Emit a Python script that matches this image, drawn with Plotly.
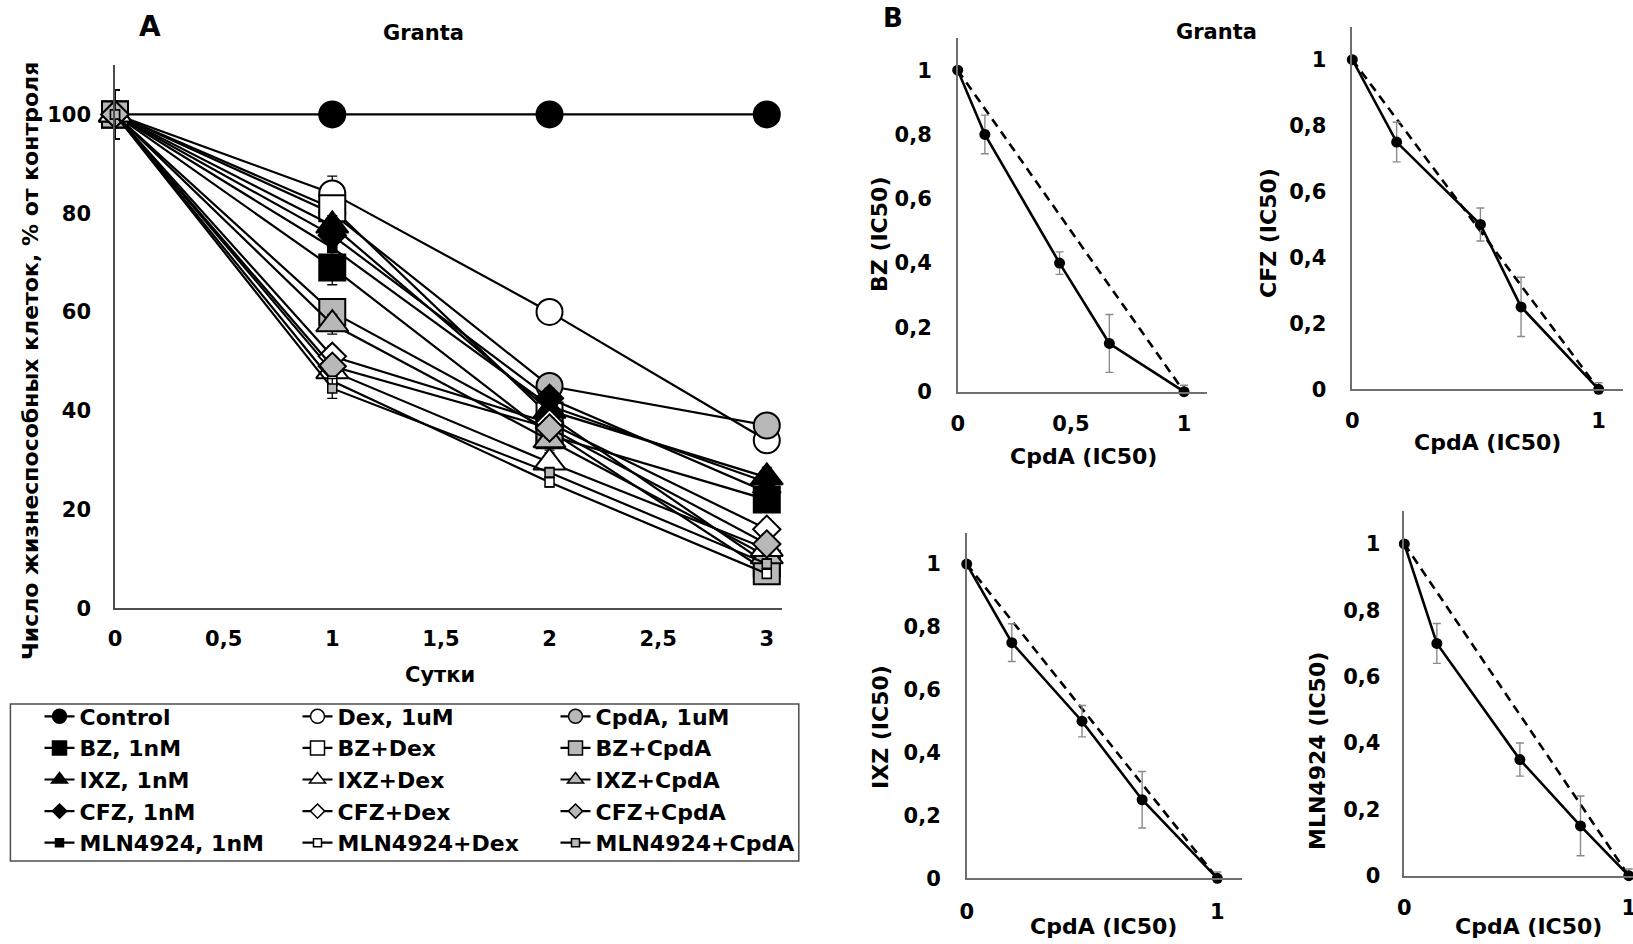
import plotly.graph_objects as go

# ---------------- Panel A: viability over time ----------------
days = [0, 1, 2, 3]

control = [100, 100, 100, 100]
dex = [100, 84, 60, 34]
cpda = [100, 80, 45, 37]
bz = [100, 69, 35, 22]
ixz = [100, 77.5, 40, 26.5]
cfz = [100, 75.5, 42.5, 23.5]
mln = [100, 73, 41, 25.5]
bz_dex = [100, 81, 39, 9]
ixz_dex = [100, 48, 29.5, 12]
cfz_dex = [100, 51, 37.5, 16]
mln_dex = [100, 46, 25.5, 7]
bz_cpda = [100, 60, 36, 7.5]
ixz_cpda = [100, 57.5, 34, 10.5]
cfz_cpda = [100, 49, 36.5, 13]
mln_cpda = [100, 44.5, 27.5, 9]

control_err = [5, 1, 1, 1]
dex_err = [5, 3.5, 2, 2]
cpda_err = [5, 2, 2, 2]
bz_err = [5, 3.5, 2, 2]
ixz_err = [5, 2, 2, 2]
cfz_err = [5, 2, 2, 2]
mln_err = [5, 1, 1, 1]
bz_dex_err = [5, 2, 2, 2]
ixz_dex_err = [5, 2, 2, 2]
cfz_dex_err = [5, 2, 2, 2]
mln_dex_err = [5, 1, 1, 1]
bz_cpda_err = [5, 2, 2, 2]
ixz_cpda_err = [5, 2, 2, 2]
cfz_cpda_err = [5, 2, 2, 2]
mln_cpda_err = [5, 2, 1, 1]

# ---------------- Panel B: isobolograms ----------------
bz_cpda_x = [0, 0.12, 0.45, 0.67, 1]
bz_iso_y = [1, 0.8, 0.4, 0.15, 0]
bz_iso_err = [0, 0.06, 0.035, 0.09, 0.02]

cfz_cpda_x = [0, 0.18, 0.52, 0.685, 1]
cfz_iso_y = [1, 0.75, 0.5, 0.25, 0]
cfz_iso_err = [0, 0.06, 0.05, 0.09, 0.02]

ixz_cpda_x = [0, 0.18, 0.46, 0.70, 1]
ixz_iso_y = [1, 0.75, 0.5, 0.25, 0]
ixz_iso_err = [0, 0.06, 0.05, 0.09, 0.02]

mln_cpda_x = [0, 0.145, 0.515, 0.785, 1]
mln_iso_y = [1, 0.7, 0.35, 0.15, 0]
mln_iso_err = [0, 0.06, 0.05, 0.09, 0.02]

additive_x = [0, 1]
additive_y = [1, 0]

FONT = "DejaVu Sans, Liberation Sans, Arial, sans-serif"
BLACK = "#000000"
WHITE = "#ffffff"
HATCH = "#b8b8b8"

BIG = {"circle": 26, "square": 26, "triangle-up": 28, "diamond": 21}
SMALL = 9

# name: y, err, symbol, fill, small marker, legend column
series = {
    "Control": (control, control_err, "circle", BLACK, False, "c1"),
    "BZ, 1nM": (bz, bz_err, "square", BLACK, False, "c1"),
    "IXZ, 1nM": (ixz, ixz_err, "triangle-up", BLACK, False, "c1"),
    "CFZ, 1nM": (cfz, cfz_err, "diamond", BLACK, False, "c1"),
    "MLN4924, 1nM": (mln, mln_err, "square", BLACK, True, "c1"),
    "Dex, 1uM": (dex, dex_err, "circle", WHITE, False, "c2"),
    "BZ+Dex": (bz_dex, bz_dex_err, "square", WHITE, False, "c2"),
    "IXZ+Dex": (ixz_dex, ixz_dex_err, "triangle-up", WHITE, False, "c2"),
    "CFZ+Dex": (cfz_dex, cfz_dex_err, "diamond", WHITE, False, "c2"),
    "MLN4924+Dex": (mln_dex, mln_dex_err, "square", WHITE, True, "c2"),
    "CpdA, 1uM": (cpda, cpda_err, "circle", HATCH, False, "c3"),
    "BZ+CpdA": (bz_cpda, bz_cpda_err, "square", HATCH, False, "c3"),
    "IXZ+CpdA": (ixz_cpda, ixz_cpda_err, "triangle-up", HATCH, False, "c3"),
    "CFZ+CpdA": (cfz_cpda, cfz_cpda_err, "diamond", HATCH, False, "c3"),
    "MLN4924+CpdA": (mln_cpda, mln_cpda_err, "square", HATCH, True, "c3"),
}

# stacking order of the markers (first drawn = bottom)
draw_order = [
    "Control", "Dex, 1uM", "CpdA, 1uM", "BZ+Dex", "BZ, 1nM", "MLN4924, 1nM",
    "CFZ, 1nM", "IXZ, 1nM", "BZ+CpdA", "IXZ+CpdA", "IXZ+Dex", "CFZ+Dex",
    "CFZ+CpdA", "MLN4924+Dex", "MLN4924+CpdA",
]

fig = go.Figure()

for name in draw_order:
    y, err, sym, fill, small, _ = series[name]
    size = SMALL if small else BIG[sym]
    fig.add_trace(go.Scatter(
        x=days, y=y, mode="lines+markers", name=name, showlegend=False,
        line=dict(color=BLACK, width=2.2),
        marker=dict(symbol=sym, size=size, color=fill,
                    line=dict(color=BLACK, width=1.5 if small else 2)),
        error_y=dict(type="data", array=err, visible=True, color=BLACK,
                     thickness=1.3, width=5),
        cliponaxis=False, xaxis="x", yaxis="y",
    ))

# legend entries, three columns
for name, (y, err, sym, fill, small, col) in series.items():
    lsize = 8 if small else (14 if sym != "diamond" else 11)
    fig.add_trace(go.Scatter(
        x=[None], y=[None], mode="lines+markers", name=name,
        legendgroup=col, showlegend=True,
        line=dict(color=BLACK, width=2.2),
        marker=dict(symbol=sym, size=lsize, color=fill,
                    line=dict(color=BLACK, width=1.5)),
        xaxis="x", yaxis="y",
    ))

iso_panels = [
    ("2", bz_cpda_x, bz_iso_y, bz_iso_err),
    ("3", cfz_cpda_x, cfz_iso_y, cfz_iso_err),
    ("4", ixz_cpda_x, ixz_iso_y, ixz_iso_err),
    ("5", mln_cpda_x, mln_iso_y, mln_iso_err),
]
for ax, xs, ys, es in iso_panels:
    fig.add_trace(go.Scatter(
        x=additive_x, y=additive_y, mode="lines", showlegend=False,
        line=dict(color=BLACK, width=2.6, dash="9px,6px"),
        cliponaxis=False, xaxis="x" + ax, yaxis="y" + ax,
    ))
    fig.add_trace(go.Scatter(
        x=xs, y=ys, mode="lines+markers", showlegend=False,
        line=dict(color=BLACK, width=2.6),
        marker=dict(symbol="circle", size=11, color=BLACK),
        error_y=dict(type="data", array=es, visible=True, color="#8a8a8a",
                     thickness=1.4, width=4),
        cliponaxis=False, xaxis="x" + ax, yaxis="y" + ax,
    ))

W, H = 1633, 944


def px_x(p):
    return p / W


def px_y(p):
    return 1 - p / H


tickfont = dict(family=FONT, size=21, color=BLACK, weight="bold")


def axis(domain, rng, anchor, standoff, linecolor="#4d4d4d", **kw):
    d = dict(domain=domain, range=rng, anchor=anchor, showline=True,
             linecolor=linecolor, linewidth=1.5, showgrid=False,
             zeroline=False, ticks="", tickfont=tickfont,
             ticklabelstandoff=standoff, ticklabeloverflow="allow",
             automargin=False, fixedrange=True)
    d.update(kw)
    return d


GRAY_AX = "#6e6e6e"

layout = dict(
    width=W, height=H,
    margin=dict(l=0, r=0, t=0, b=0, pad=0, autoexpand=False),
    paper_bgcolor=WHITE, plot_bgcolor=WHITE, separators=", ",
    font=dict(family=FONT, color=BLACK),
    # Panel A
    xaxis=axis([px_x(115), px_x(782)], [0, 3.07], "y", 11, dtick=0.5, tick0=0),
    yaxis=axis([px_y(608.2), px_y(65)], [0, 110], "x", 18, dtick=20, tick0=0),
    # Panel B: BZ
    xaxis2=axis([px_x(957.7), px_x(1206.7)], [0, 1.1], "y2", 12,
                linecolor=GRAY_AX, tickvals=[0, 0.5, 1]),
    yaxis2=axis([px_y(391.7), px_y(38)], [0, 1.1], "x2", 20,
                linecolor=GRAY_AX, dtick=0.2, tick0=0),
    # CFZ
    xaxis3=axis([px_x(1352.3), px_x(1623.3)], [0, 1.1], "y3", 12,
                linecolor=GRAY_AX, tickvals=[0, 1]),
    yaxis3=axis([px_y(389.3), px_y(26.7)], [0, 1.1], "x3", 20,
                linecolor=GRAY_AX, dtick=0.2, tick0=0),
    # IXZ
    xaxis4=axis([px_x(966.7), px_x(1242.4)], [0, 1.1], "y4", 14,
                linecolor=GRAY_AX, tickvals=[0, 1]),
    yaxis4=axis([px_y(878.3), px_y(532.7)], [0, 1.1], "x4", 20,
                linecolor=GRAY_AX, dtick=0.2, tick0=0),
    # MLN4924
    xaxis5=axis([px_x(1404.3), 1.0], [0, 1.019], "y5", 12,
                linecolor=GRAY_AX, tickvals=[0, 1]),
    yaxis5=axis([px_y(875.7), px_y(510.7)], [0, 1.1], "x5", 18,
                linecolor=GRAY_AX, dtick=0.2, tick0=0),
    legend=dict(
        orientation="h", traceorder="grouped", entrywidth=213,
        entrywidthmode="pixels", x=px_x(39.5), y=px_y(695.5),
        xanchor="left", yanchor="top", bgcolor="rgba(0,0,0,0)",
        borderwidth=0, tracegroupgap=0,
        font=dict(family=FONT, size=22, color=BLACK, weight="bold"),
        itemclick=False, itemdoubleclick=False,
    ),
    # frame around the legend
    shapes=[dict(type="rect", xref="paper", yref="paper",
                 x0=px_x(10.4), x1=px_x(798.8), y0=px_y(861), y1=px_y(704),
                 line=dict(color="#4d4d4d", width=1.5), layer="below")],
)
fig.update_layout(**layout)


def label(text, x, y, size=21, angle=0):
    fig.add_annotation(
        text=text, x=px_x(x), y=px_y(y), xref="paper", yref="paper",
        showarrow=False, textangle=angle, xanchor="center", yanchor="middle",
        font=dict(family=FONT, size=size, color=BLACK, weight="bold"),
    )


label("A", 150, 27, size=28)
label("B", 893, 18, size=26)
label("Granta", 423, 33)
label("Granta", 1216, 32)
label("Число жизнеспособных клеток, % от контроля", 31, 361, size=22, angle=-90)
label("Сутки", 440, 675)

label("CpdA (IC50)", 1083, 456, size=22)
label("BZ (IC50)", 880, 235, size=22, angle=-90)
label("CpdA (IC50)", 1487, 442, size=22)
label("CFZ (IC50)", 1268, 233, size=22, angle=-90)
label("CpdA (IC50)", 1103, 926, size=22)
label("IXZ (IC50)", 880, 727, size=22, angle=-90)
label("CpdA (IC50)", 1528, 926, size=22)
label("MLN4924 (IC50)", 1317, 751, size=22, angle=-90)

fig.write_html("out.html")
